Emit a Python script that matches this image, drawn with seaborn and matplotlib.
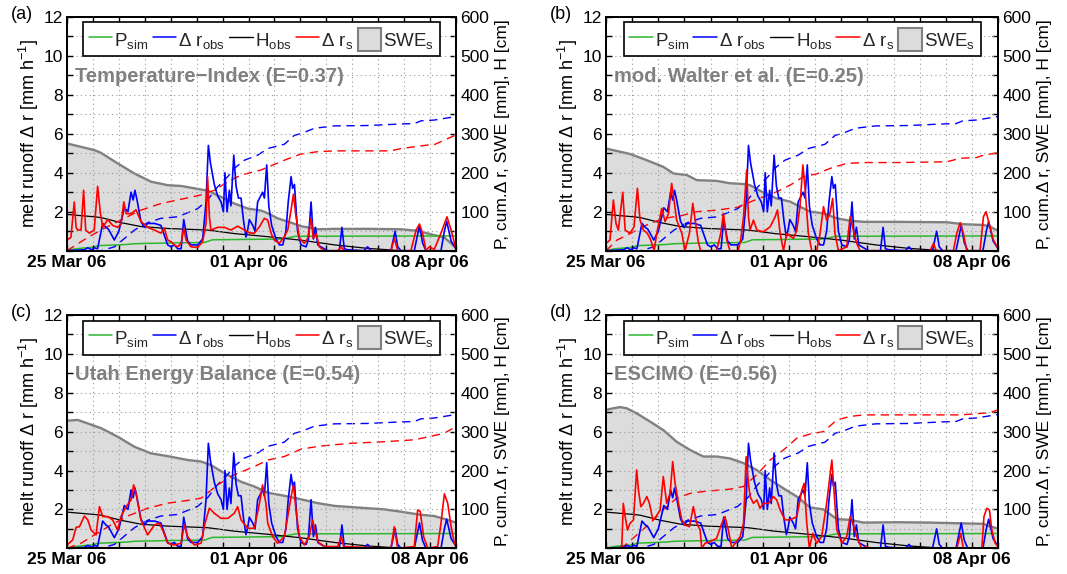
import matplotlib
matplotlib.use("Agg")
import matplotlib.pyplot as plt
import seaborn as sns
from matplotlib.ticker import MultipleLocator, FuncFormatter, FixedLocator
from matplotlib.patches import Patch
from matplotlib.lines import Line2D

# ---------------- data (time in days since 25 Mar 2006 00:00) ----------------
date_ticks = [0, 7, 14]
date_labels = ["25 Mar 06", "01 Apr 06", "08 Apr 06"]

# observed melt runoff delta r_obs [mm/h] (same in all panels)
obs_t = [0, 0.67, 0.80, 0.95, 1.05, 1.18, 1.375, 1.50, 1.60, 1.825,
         2.00, 2.21, 2.35, 2.47, 2.55, 2.62, 2.70, 2.85, 2.98, 3.11,
         3.37, 3.62, 3.75, 3.88, 4.01, 4.14, 4.27, 4.40, 4.50, 4.65,
         4.78, 5.04, 5.23, 5.36, 5.45, 5.53, 5.68, 5.81, 5.94, 6.03,
         6.09, 6.17, 6.26, 6.32, 6.43, 6.52, 6.61, 6.71, 6.81, 6.90,
         6.97, 7.03, 7.16, 7.25, 7.35, 7.54, 7.61, 7.70, 7.78, 7.89,
         8.06, 8.19, 8.32, 8.44, 8.53, 8.64, 8.70, 8.77, 8.89, 9.02,
         9.22, 9.31, 9.41, 9.50, 9.58, 9.67, 9.79, 9.92, 10.05, 10.50,
         10.60, 10.69, 10.82, 11.45, 11.59, 11.72, 12.49, 12.65, 12.75, 12.88,
         13.39, 13.59, 13.71, 13.84, 14.42, 14.55, 14.64, 14.81, 15.0]
obs_v = [0, 0.05, 0.15, 0.05, 0.15, 0.10, 1.4, 1.2, 1.1, 0.55,
         1.0, 2.2, 2.0, 3.0, 2.6, 3.1, 2.6, 1.5, 1.2, 1.4,
         1.4, 1.3, 0.8, 0.3, 0.2, 0.3, 0.1, 0.1, 1.6, 0.5,
         0.3, 0.3, 0.6, 2.5, 5.4, 4.5, 3.4, 2.8, 2.5, 2.0,
         4.0, 2.0, 3.1, 2.3, 4.9, 3.3, 2.7, 2.7, 1.5, 0.7,
         1.1, 1.6, 1.3, 1.0, 2.5, 3.0, 2.7, 4.4, 2.3, 1.3,
         0.6, 0.3, 0.3, 1.0, 2.5, 3.8, 3.2, 3.4, 1.0, 0.3,
         0.2, 0.6, 2.5, 0.6, 1.2, 0.3, 0.2, 0.1, 0.0, 0.0,
         1.2, 0.1, 0.05, 0.0, 0.2, 0.0, 0.0, 1.0, 0.2, 0.0,
         0.0, 1.3, 0.4, 0.0, 0.0, 1.0, 1.5, 0.5, 0.1]

# cumulative observed runoff [mm]
obscum_t = [0, 1.31, 1.83, 2.60, 3.11, 3.62, 4.27, 5.04, 5.42, 5.81, 6.20, 6.45, 6.84,
            7.35, 7.74, 8.38, 8.77, 9.02, 9.54, 10.31, 11.59, 12.88, 13.39, 13.65, 14.16, 15.0]
obscum_v = [0, 0, 10, 53, 72, 83, 87, 108, 130, 164, 190, 211, 232,
            245, 262, 273, 296, 300, 314, 320, 321, 325, 326, 333, 335, 344]

# simulated precipitation P_sim [mm]
p_t = [0, 0.25, 0.5, 1.0, 1.2, 2.3, 2.6, 4.0, 5.3, 5.6, 8.3, 8.8, 15.0]
p_v = [0, 4, 6, 9, 13, 16, 18, 20, 21, 28, 30, 37, 38]

# observed snow depth H_obs [cm]
h_t = [0, 1.05, 1.31, 2.08, 2.85, 3.88, 4.65, 5.42, 6.45, 7.74, 9.02, 10.31, 11.59, 12.49, 12.88, 15.0]
h_v = [93, 87, 85, 72, 62, 57, 55, 53, 44, 36, 27, 15, 6, 2, 0, 0]

# ---- panel (a) Temperature-Index ----
swe_t_a = [0, 1.05, 1.31, 1.95, 2.60, 3.24, 3.88, 4.40, 4.91, 5.42, 5.94, 6.45, 6.97, 7.48,
           7.74, 8.12, 8.64, 9.02, 9.67, 10.31, 11.59, 12.88, 13.52, 14.16, 14.55, 14.81, 15.0]
swe_v_a = [275, 258, 251, 224, 198, 177, 168, 166, 160, 154, 138, 121, 108, 103,
           96, 83, 72, 63, 55, 56, 56, 55, 51, 40, 34, 19, 6]
rs_t_a = [0, 0.15, 0.28, 0.35, 0.41, 0.54, 0.64, 0.72, 0.86, 1.05,
          1.18, 1.29, 1.38, 1.57, 1.76, 1.95, 2.08, 2.19, 2.28, 2.47,
          2.66, 2.85, 3.11, 3.37, 3.62, 3.75, 3.88, 4.01, 4.14, 4.27,
          4.40, 4.50, 4.59, 4.78, 5.04, 5.23, 5.36, 5.42, 5.49, 5.55,
          5.81, 6.07, 6.32, 6.58, 6.84, 7.03, 7.22, 7.42, 7.61, 7.74,
          7.87, 7.99, 8.19, 8.38, 8.51, 8.64, 8.73, 8.83, 8.96, 9.15,
          9.28, 9.41, 9.50, 9.60, 9.73, 9.92, 10.44, 10.57, 10.67, 12.49,
          12.62, 12.75, 13.26, 13.46, 13.59, 13.71, 13.84, 13.97, 14.16, 14.42,
          14.65, 14.81, 14.94, 15.0]
rs_v_a = [0.55, 0.68, 2.5, 1.2, 1.06, 1.06, 3.1, 1.06, 0.9, 1.06,
          3.3, 1.9, 1.2, 1.6, 1.3, 1.2, 1.36, 2.5, 1.9, 1.9,
          2.1, 1.5, 1.2, 1.06, 0.9, 1.15, 0.55, 0.46, 0.29, 0.2,
          0.38, 1.15, 0.55, 0.2, 0.17, 0.46, 1.4, 3.8, 1.74, 1.06,
          1.2, 1.2, 1.06, 1.26, 1.06, 0.92, 0.89, 1.23, 1.66, 1.57,
          0.89, 0.55, 0.38, 0.72, 1.06, 2.1, 2.9, 1.74, 0.63, 0.38,
          0.63, 1.66, 0.63, 0.89, 0.2, 0, 0, 0.2, 0, 0,
          0.63, 0, 0, 1.06, 1.37, 0.9, 0, 0.2, 0.07, 0.9,
          1.74, 1.06, 0.38, 0.05]
rc_t_a = [0, 0.28, 0.80, 1.31, 2.08, 2.85, 3.62, 4.40, 5.17, 5.68, 6.20, 6.71,
          7.48, 8.38, 9.02, 9.67, 10.31, 11.59, 12.49, 12.88, 13.91, 14.16, 15.0]
rc_v_a = [0, 12, 34, 53, 79, 104, 121, 132, 143, 155, 177, 194,
          207, 232, 248, 254, 256, 256, 256, 262, 271, 272, 297]

# ---- panel (b) mod. Walter et al. ----
swe_t_b = [0, 0.92, 1.56, 2.19, 2.58, 3.09, 3.47, 4.23, 4.74, 5.26, 5.51, 6.02, 6.53,
           7.04, 7.42, 7.81, 8.32, 8.83, 9.34, 9.85, 11.12, 13.04, 13.67, 14.44, 14.69, 15.0]
swe_v_b = [262, 248, 232, 215, 198, 194, 181, 179, 173, 171, 168, 149, 134,
           126, 113, 100, 96, 83, 77, 74, 74, 73, 68, 66, 62, 51]
rs_t_b = [0, 0.15, 0.28, 0.38, 0.47, 0.64, 0.73, 0.92, 1.07, 1.20,
          1.30, 1.43, 1.58, 1.71, 1.84, 1.94, 2.13, 2.26, 2.39, 2.51,
          2.60, 2.70, 2.90, 3.02, 3.19, 3.32, 3.41, 3.53, 3.62, 4.23,
          4.39, 4.49, 4.62, 4.74, 5.06, 5.15, 5.26, 5.38, 5.45, 5.51,
          5.64, 5.77, 6.02, 6.28, 6.47, 6.56, 6.66, 6.79, 6.91, 7.17,
          7.30, 7.42, 7.53, 7.61, 7.74, 7.87, 8.06, 8.19, 8.32, 8.44,
          8.57, 8.67, 8.76, 8.89, 9.21, 9.34, 9.46, 9.59, 9.72, 12.40,
          12.53, 12.63, 13.29, 13.42, 13.55, 13.67, 13.80, 14.31, 14.44, 14.54,
          14.69, 14.82, 15.0]
rs_v_b = [0.38, 0.55, 2.6, 1.4, 1.06, 3.0, 1.06, 0.89, 1.23, 3.2,
          1.57, 1.06, 0.89, 0.55, 0, 0.89, 2.17, 1.49, 1.91, 3.45,
          2.6, 1.57, 0.89, 0, 0.9, 2.43, 1.57, 0.46, 0, 0,
          0.9, 1.91, 0.55, 0, 0, 0.55, 1.74, 4.14, 1.74, 1.06,
          1.57, 1.06, 0.97, 1.23, 1.74, 2.09, 0.89, 0, 0.89, 0.63,
          1.06, 2.26, 4.4, 3.28, 0.89, 0, 0, 0.89, 2.26, 1.57,
          1.91, 2.68, 0.89, 0, 0.2, 1.74, 1.06, 0.38, 0, 0,
          0.38, 0, 0, 0.9, 1.44, 0.9, 0, 0, 1.74, 2.0,
          1.23, 0.55, 0.12]
rc_t_b = [0, 0.41, 0.92, 1.56, 2.19, 2.83, 3.47, 4.23, 5.00, 5.77, 6.53, 7.04,
          7.55, 8.06, 8.57, 9.21, 9.85, 11.12, 13.04, 13.55, 14.18, 14.44, 15.0]
rc_v_b = [0, 27, 44, 66, 83, 89, 100, 104, 111, 132, 151, 168,
          190, 197, 211, 224, 226, 226, 228, 237, 239, 245, 251]

# ---- panel (c) Utah Energy Balance ----
swe_t_c = [0, 0.41, 0.80, 1.31, 1.95, 2.60, 3.24, 3.88, 4.65, 5.17, 5.55, 6.07, 6.71,
           7.22, 7.74, 8.38, 9.02, 9.67, 10.31, 11.59, 12.24, 12.88, 13.65, 14.16, 14.67, 15.0]
swe_v_c = [328, 330, 321, 309, 287, 261, 244, 237, 227, 223, 214, 193, 171,
           159, 143, 135, 126, 116, 109, 103, 100, 94, 86, 83, 73, 66]
rs_t_c = [0, 0.22, 0.35, 0.48, 0.67, 0.80, 0.93, 1.12, 1.25, 1.38,
          1.57, 1.76, 1.95, 2.08, 2.28, 2.47, 2.57, 2.66, 2.85, 3.11,
          3.37, 3.56, 3.69, 3.88, 4.14, 4.40, 4.52, 4.65, 4.91, 5.17,
          5.32, 5.49, 5.68, 5.94, 6.20, 6.45, 6.58, 6.71, 6.97, 7.22,
          7.42, 7.54, 7.67, 7.74, 7.93, 8.12, 8.38, 8.51, 8.64, 8.73,
          8.83, 8.96, 9.15, 9.34, 9.47, 9.56, 9.67, 9.92, 10.44, 10.57,
          10.67, 12.49, 12.62, 12.75, 13.39, 13.52, 13.62, 13.75, 13.91, 14.29,
          14.42, 14.55, 14.68, 14.81, 14.94, 15.0]
rs_v_c = [0.17, 0.43, 1.08, 1.11, 1.66, 1.46, 0.94, 0.69, 2.14, 1.63,
          1.63, 1.46, 0.94, 1.63, 2.14, 2.49, 3.26, 2.83, 1.46, 0.69,
          1.2, 1.29, 0.94, 0.26, 0.17, 0.26, 1.2, 0.6, 0.17, 0.26,
          1.29, 2.06, 1.8, 1.54, 1.54, 1.8, 2.14, 1.46, 1.03, 1.03,
          2.31, 3.26, 2.31, 1.29, 0.6, 0.26, 0.6, 1.63, 2.66, 3.26,
          1.97, 0.6, 0.17, 0.6, 1.46, 0.94, 0.34, 0.09, 0.09, 0.6,
          0.09, 0, 1.11, 0, 0.09, 1.97, 1.89, 0.6, 0, 0.09,
          1.29, 2.8, 2.31, 1.11, 0.26, 0.09]
rc_t_c = [0, 0.54, 1.05, 1.70, 2.34, 3.11, 3.88, 4.65, 5.17, 5.81, 6.45,
          7.22, 7.74, 8.38, 9.02, 9.79, 10.95, 12.24, 13.39, 14.16, 14.55, 15.0]
rc_v_c = [0, 13, 34, 60, 83, 103, 116, 123, 129, 163, 189,
          210, 227, 236, 255, 263, 270, 274, 279, 290, 296, 313]

# ---- panel (d) ESCIMO ----
swe_t_d = [0, 0.28, 0.54, 0.79, 1.17, 1.68, 2.19, 2.70, 3.21, 3.72, 4.23, 4.74, 5.26, 5.77,
           6.28, 6.79, 7.30, 7.81, 8.32, 8.83, 9.34, 9.85, 11.12, 12.40, 13.67, 14.44, 14.69, 15.0]
swe_v_d = [356, 360, 363, 360, 347, 326, 304, 274, 253, 236, 236, 231, 219, 201,
           176, 154, 133, 105, 100, 75, 73, 66, 67, 66, 64, 63, 56, 51]
rs_t_d = [0, 0.60, 0.66, 0.73, 0.82, 0.92, 1.05, 1.17, 1.24, 1.33,
          1.43, 1.56, 1.66, 1.79, 1.91, 2.07, 2.19, 2.32, 2.45, 2.55,
          2.64, 2.77, 2.90, 3.02, 3.19, 3.34, 3.47, 3.60, 3.66, 3.79,
          3.98, 4.23, 4.43, 4.55, 4.68, 4.81, 4.94, 5.13, 5.26, 5.36,
          5.45, 5.51, 5.64, 5.77, 5.89, 6.02, 6.21, 6.40, 6.53, 6.66,
          6.85, 7.04, 7.30, 7.49, 7.58, 7.68, 7.78, 7.91, 8.06, 8.25,
          8.44, 8.64, 8.72, 8.83, 9.02, 9.21, 9.34, 9.44, 9.59, 9.78,
          9.97, 10.10, 13.42, 13.57, 13.67, 14.38, 14.46, 14.57, 14.67, 14.76,
          14.89, 15.0]
rs_v_d = [0, 0, 2.31, 1.63, 0.94, 1.29, 1.46, 4.03, 3.0, 2.14,
          2.31, 2.66, 2.31, 1.46, 1.63, 1.97, 3.69, 2.31, 2.83, 4.46,
          3.34, 2.31, 1.46, 1.2, 1.11, 2.14, 1.29, 0.94, 0, 0.26,
          0.34, 0.51, 1.29, 1.63, 0.94, 0, 0.26, 0.6, 1.29, 4.71,
          3.34, 2.66, 2.31, 2.49, 2.06, 2.31, 2.31, 2.66, 2.49, 1.97,
          1.46, 1.46, 1.63, 3.0, 3.34, 1.29, 0, 0.77, 0.26, 0.6,
          2.31, 4.54, 3.0, 0.94, 0.26, 0.6, 1.63, 1.29, 0.6, 0,
          0.09, 0, 0, 0.77, 0, 0, 1.63, 2.06, 1.97, 0.94,
          0.26, 0.09]
rc_t_d = [0, 0.66, 1.17, 1.68, 2.19, 2.70, 3.21, 3.72, 4.74, 5.26, 5.77, 6.28, 6.79,
          7.30, 7.81, 8.32, 8.83, 9.34, 9.85, 11.12, 13.04, 13.55, 14.18, 14.69, 15.0]
rc_v_d = [0, 4, 34, 64, 99, 129, 141, 146, 152, 159, 189, 227, 253,
          283, 294, 300, 330, 339, 343, 343, 343, 343, 346, 349, 356]

panel_letters = ["(a)", "(b)", "(c)", "(d)"]
panel_titles = ["Temperature\u2212Index (E=0.37)", "mod. Walter et al. (E=0.25)",
                "Utah Energy Balance (E=0.54)", "ESCIMO (E=0.56)"]
legend_labels = ["P$_{\\mathrm{sim}}$", "\u0394 r$_{\\mathrm{obs}}$", "H$_{\\mathrm{obs}}$",
                 "\u0394 r$_{\\mathrm{s}}$", "SWE$_{\\mathrm{s}}$"]

# ---------------- style ----------------
sns.set_theme(style="ticks")
plt.rcParams["font.family"] = ["Liberation Sans", "DejaVu Sans"]
plt.rcParams["mathtext.fontset"] = "custom"
plt.rcParams["mathtext.rm"] = "Liberation Sans"
plt.rcParams["mathtext.it"] = "Liberation Sans:italic"
plt.rcParams["mathtext.bf"] = "Liberation Sans:bold"

C_GREEN = "#2cb82c"
C_BLUE = "#0000ff"
C_RED = "#ff0000"
C_FILL = "#dcdcdc"
C_EDGE = "#808080"

fig = plt.figure(figsize=(10.67, 5.74), dpi=100)

rects = [[0.0628, 0.5632, 0.3646, 0.4077],
         [0.5680, 0.5632, 0.3674, 0.4077],
         [0.0628, 0.0448, 0.3646, 0.4065],
         [0.5680, 0.0448, 0.3674, 0.4065]]

panels = [(swe_t_a, swe_v_a, rs_t_a, rs_v_a, rc_t_a, rc_v_a),
          (swe_t_b, swe_v_b, rs_t_b, rs_v_b, rc_t_b, rc_v_b),
          (swe_t_c, swe_v_c, rs_t_c, rs_v_c, rc_t_c, rc_v_c),
          (swe_t_d, swe_v_d, rs_t_d, rs_v_d, rc_t_d, rc_v_d)]

left_fmt = FuncFormatter(lambda v, p: "" if (abs(v) < 1e-9 or int(round(v)) % 2) else f"{int(round(v))}")
right_fmt = FuncFormatter(lambda v, p: "" if (abs(v) < 1e-9 or int(round(v)) % 100) else f"{int(round(v))}")
x_fmt = FuncFormatter(lambda v, p: date_labels[date_ticks.index(int(round(v)))]
                      if int(round(v)) in date_ticks else "")

dash = (0, (6, 4))
for i, (rect, data) in enumerate(zip(rects, panels)):
    swe_t, swe_v, rs_t, rs_v, rc_t, rc_v = data
    ax = fig.add_axes(rect)
    ax2 = ax.twinx()
    ax.set_zorder(ax2.get_zorder() + 1)
    ax.patch.set_visible(False)

    # right-axis quantities
    ax2.fill_between(swe_t, swe_v, 0, color=C_FILL, lw=0, zorder=1)
    sns.lineplot(x=swe_t, y=swe_v, ax=ax2, color=C_EDGE, lw=1.7, estimator=None, sort=False)
    sns.lineplot(x=p_t, y=p_v, ax=ax2, color=C_GREEN, lw=1.1, estimator=None, sort=False)
    sns.lineplot(x=h_t, y=h_v, ax=ax2, color="black", lw=0.9, estimator=None, sort=False)
    sns.lineplot(x=obscum_t, y=obscum_v, ax=ax2, color=C_BLUE, lw=1.0,
                 linestyle=dash, estimator=None, sort=False)
    sns.lineplot(x=rc_t, y=rc_v, ax=ax2, color=C_RED, lw=1.0,
                 linestyle=dash, estimator=None, sort=False)

    # left-axis runoff
    sns.lineplot(x=obs_t, y=obs_v, ax=ax, color=C_BLUE, lw=1.2, estimator=None, sort=False)
    sns.lineplot(x=rs_t, y=rs_v, ax=ax, color=C_RED, lw=1.2, estimator=None, sort=False)

    ax.set_xlim(0, 15)
    ax.set_ylim(0, 12)
    ax2.set_ylim(0, 600)

    ax.xaxis.set_major_locator(FixedLocator(list(range(16))))
    ax.xaxis.set_major_formatter(x_fmt)
    ax.yaxis.set_major_locator(MultipleLocator(1))
    ax.yaxis.set_major_formatter(left_fmt)
    ax2.yaxis.set_major_locator(MultipleLocator(50))
    ax2.yaxis.set_major_formatter(right_fmt)

    ax.grid(True, which="major", linestyle=(0, (1, 3)), color="#9a9a9a", lw=0.8)
    ax2.grid(False)

    ax.tick_params(axis="both", direction="in", length=4, width=1, colors="black",
                   top=True, right=False, labelsize=12.5, pad=3)
    ax2.tick_params(axis="y", direction="in", length=4, width=1, colors="black",
                    labelsize=12.5, pad=3)
    for lab in ax.get_xticklabels():
        lab.set_fontweight("bold")
    for a in (ax, ax2):
        for sp in a.spines.values():
            sp.set_color("black")
            sp.set_linewidth(1.4)

    ax.set_xlabel("")
    ax.set_ylabel("melt runoff \u0394 r [mm h$^{-1}$]", fontsize=13, labelpad=2, color="black")
    ax2.set_ylabel("P, cum.\u0394 r, SWE [mm], H [cm]", fontsize=12.5, labelpad=4, color="black")

    ax.text(0.02, 0.745, panel_titles[i], transform=ax.transAxes, fontsize=14.5,
            fontweight="bold", color="#808080", ha="left", va="center")

    handles = [Line2D([], [], color=C_GREEN, lw=1.1),
               Line2D([], [], color=C_BLUE, lw=1.1),
               Line2D([], [], color="black", lw=1.0),
               Line2D([], [], color=C_RED, lw=1.1),
               Patch(facecolor=C_FILL, edgecolor=C_EDGE, lw=1.5)]
    leg = ax.legend(handles, legend_labels, loc="upper center", bbox_to_anchor=(0.5, 0.976),
                    ncol=5, frameon=True, fancybox=False, framealpha=1, edgecolor="black",
                    fontsize=13.5, handlelength=1.25, handleheight=1.5, handletextpad=0.12,
                    columnspacing=0.22, borderpad=0.3, borderaxespad=0)
    leg.get_frame().set_linewidth(1.2)

    bb = rect
    fig.text(bb[0] - 0.053, bb[1] + bb[3] + 0.004, panel_letters[i], fontsize=13,
             ha="left", va="center", color="black")

fig.savefig("out.png", dpi=100)
